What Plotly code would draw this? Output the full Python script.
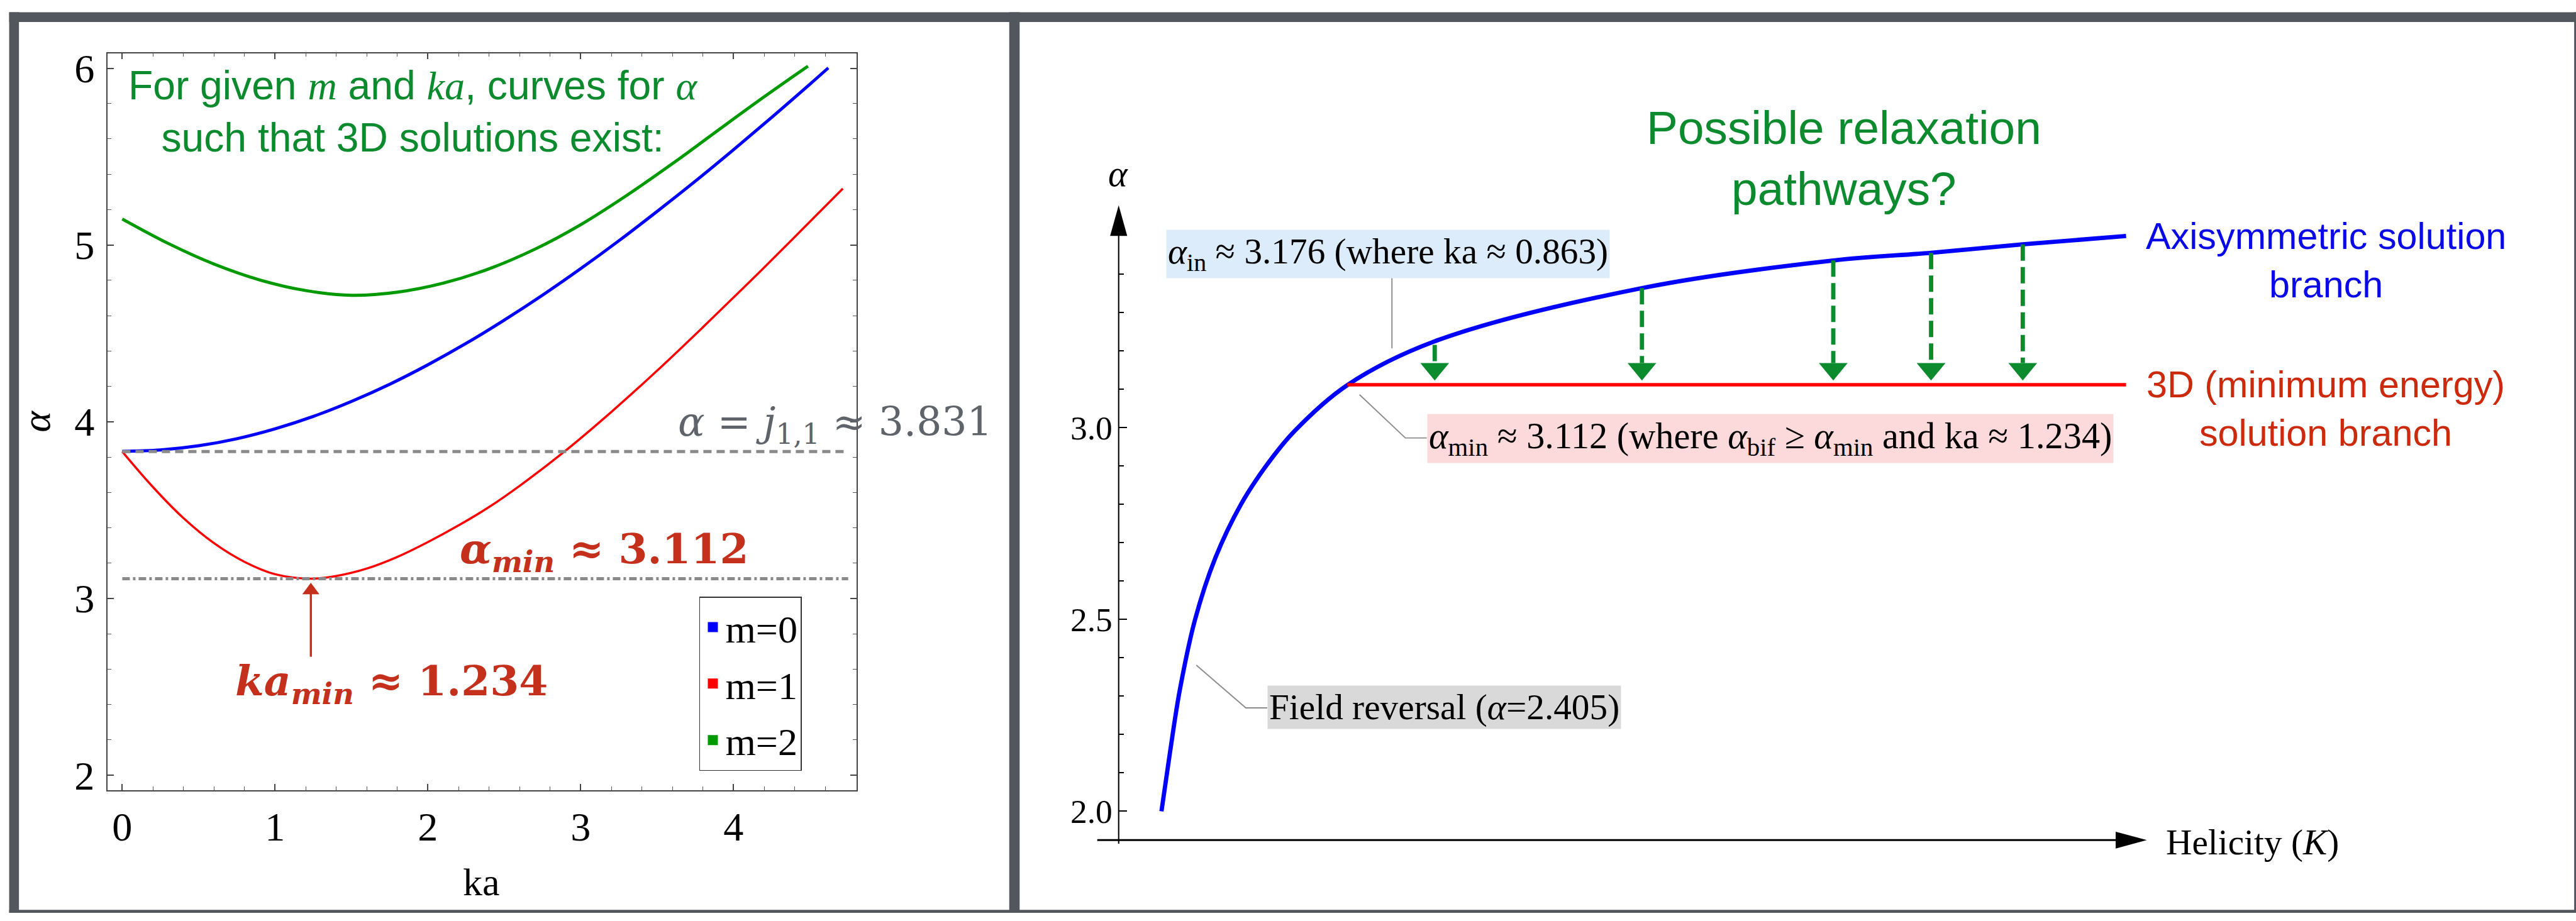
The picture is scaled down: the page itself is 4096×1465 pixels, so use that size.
import plotly.graph_objects as go

# ---------------------------------------------------------------
# Data
# ---------------------------------------------------------------
# Left panel: alpha on the bifurcation curves as a function of ka
ka_m0 = [0.0, 0.25, 0.5, 0.75, 1.0, 1.25, 1.5, 1.75, 2.0, 2.25, 2.5, 2.75,
         3.0, 3.25, 3.5, 3.75, 4.0, 4.25, 4.5, 4.62]
alpha_m0 = [3.832, 3.840, 3.864, 3.904, 3.960, 4.030, 4.115, 4.212, 4.322, 4.443,
            4.575, 4.716, 4.866, 5.024, 5.190, 5.361, 5.539, 5.722, 5.910, 6.002]

ka_m1 = [0.0, 0.2, 0.4, 0.6, 0.8, 1.0, 1.234, 1.4, 1.6, 1.8, 2.0, 2.2, 2.4, 2.6,
         2.889, 3.2, 3.5, 3.8, 4.1, 4.4, 4.715]
alpha_m1 = [3.831, 3.631, 3.455, 3.313, 3.207, 3.137, 3.112, 3.127, 3.169, 3.235,
            3.319, 3.413, 3.517, 3.637, 3.828, 4.055, 4.289, 4.535, 4.787, 5.045,
            5.319]

ka_m2 = [0.0, 0.3, 0.6, 0.9, 1.2, 1.5, 1.8, 2.1, 2.4, 2.7, 3.0, 3.3, 3.6, 3.9,
         4.2, 4.487]
alpha_m2 = [5.147, 5.009, 4.892, 4.802, 4.742, 4.715, 4.733, 4.784, 4.865, 4.976,
            5.115, 5.280, 5.460, 5.650, 5.838, 6.012]

m_labels = ["m=0", "m=1", "m=2"]
m_colors = ["#0000ff", "#ff0000", "#009a00"]

j11 = 3.831
alpha_min = 3.112
ka_min = 1.234
ka_ref_span = [0.0, 4.75]

left_xticks = [0, 1, 2, 3, 4]
left_yticks = [2, 3, 4, 5, 6]

# Right panel: alpha against helicity (arbitrary units)
K_axis = [0.070, 0.084, 0.100, 0.125, 0.158, 0.200, 0.241, 0.287, 0.374, 0.515,
          0.856, 1.169, 1.329, 1.479, 1.648]
alpha_axis = [2.000, 2.154, 2.316, 2.500, 2.660, 2.800, 2.900, 2.990, 3.111, 3.224,
              3.364, 3.436, 3.456, 3.478, 3.500]

K_3d = [0.374, 1.648]
alpha_3d = [alpha_min, alpha_min]

arrow_K = [0.517, 0.856, 1.169, 1.329, 1.479]
arrow_top = [3.216, 3.364, 3.436, 3.456, 3.478]

right_yticks = [2.0, 2.5, 3.0]
right_yticks_text = ["2.0", "2.5", "3.0"]
right_yminor = [2.1, 2.2, 2.3, 2.4, 2.6, 2.7, 2.8, 2.9, 3.1, 3.2, 3.3, 3.4]

# ---------------------------------------------------------------
# Page geometry: a 4214 x 1507 design grid scaled onto the page
# ---------------------------------------------------------------
W, H = 4096, 1465
GW, GH = 4214.0, 1507.0
S = W / GW


def X(p):
    return p / GW


def Y(p):
    return 1 - p / GH


def F(sz):
    return round(sz * S, 1)


SERIF = "Liberation Serif"
MATH = "DejaVu Serif"
SANS = "Liberation Sans"
FRAME = "#52575e"
GREEN = "#0b8a2e"
DARKRED = "#c4301c"

# plot areas on the design grid
L_X0, L_X1, L_Y0, L_Y1 = 176, 1401, 77, 1303
L_XR = [-0.096, 4.804]
L_YR = [1.915, 6.085]
R_X0, R_X1, R_Y0, R_Y1 = 1830, 3512, 330, 1386
R_XR = [0.0, 1.682]
R_YR = [1.9248, 3.5799]

fig = go.Figure()

# ---------------- left panel curves ----------------
for ka, al, col, w in [(ka_m2, alpha_m2, m_colors[2], 5),
                       (ka_m0, alpha_m0, m_colors[0], 5),
                       (ka_m1, alpha_m1, m_colors[1], 3.6)]:
    fig.add_trace(go.Scatter(x=ka, y=al, mode="lines", showlegend=False,
                             line=dict(color=col, width=F(w), shape="spline"),
                             xaxis="x", yaxis="y", hoverinfo="skip"))

# reference levels
fig.add_trace(go.Scatter(x=ka_ref_span, y=[j11, j11], mode="lines", showlegend=False,
                         line=dict(color="#8a8a8a", width=F(5), dash="13px,8px"),
                         xaxis="x", yaxis="y", hoverinfo="skip"))
fig.add_trace(go.Scatter(x=ka_ref_span, y=[alpha_min, alpha_min], mode="lines",
                         showlegend=False,
                         line=dict(color="#8a8a8a", width=F(5), dash="12px,5px,4px,5px"),
                         xaxis="x", yaxis="y", hoverinfo="skip"))

# legend swatches
for name, col in zip(m_labels, m_colors):
    fig.add_trace(go.Scatter(x=[None], y=[None], mode="markers", name=name,
                             legendgroup=name,
                             marker=dict(symbol="square", size=F(24), color=col),
                             xaxis="x", yaxis="y"))

# ---------------- right panel curves ----------------
fig.add_trace(go.Scatter(x=K_axis, y=alpha_axis, mode="lines", showlegend=False,
                         line=dict(color="#0000ff", width=F(7), shape="spline"),
                         xaxis="x2", yaxis="y2", hoverinfo="skip"))
fig.add_trace(go.Scatter(x=K_3d, y=alpha_3d, mode="lines", showlegend=False,
                         line=dict(color="#ff0000", width=F(5.5)),
                         xaxis="x2", yaxis="y2", hoverinfo="skip"))

# scale of the right axes in design-grid pixels
k_per_px = (R_XR[1] - R_XR[0]) / (R_X1 - R_X0)
a_per_px = (R_YR[1] - R_YR[0]) / (R_Y1 - R_Y0)
head_half = 23.5 * k_per_px
head_len = 29 * a_per_px
tip = alpha_min + 7 * a_per_px

shapes = []
for k, top in zip(arrow_K, arrow_top):
    fig.add_trace(go.Scatter(x=[k, k], y=[top, tip + head_len], mode="lines",
                             showlegend=False,
                             line=dict(color=GREEN, width=F(7), dash="26px,10px"),
                             xaxis="x2", yaxis="y2", hoverinfo="skip"))
    shapes.append(dict(type="path", xref="x2", yref="y2", layer="above",
                       path=f"M {k - head_half},{tip + head_len} L {k + head_half},{tip + head_len} L {k},{tip} Z",
                       fillcolor=GREEN, line=dict(width=0)))

# ---------------- ka_min arrow (left) ----------------
lk_per_px = (L_XR[1] - L_XR[0]) / (L_X1 - L_X0)
la_per_px = (L_YR[1] - L_YR[0]) / (L_Y1 - L_Y0)
ltip = alpha_min - 7 * la_per_px
lhead = 19 * la_per_px
lhalf = 14 * lk_per_px
shapes.append(dict(type="line", xref="x", yref="y", x0=ka_min, x1=ka_min,
                   y0=2.67, y1=ltip - lhead + 0.01,
                   line=dict(color=DARKRED, width=F(3.5))))
shapes.append(dict(type="path", xref="x", yref="y",
                   path=f"M {ka_min - lhalf},{ltip - lhead} L {ka_min + lhalf},{ltip - lhead} L {ka_min},{ltip} Z",
                   fillcolor=DARKRED, line=dict(width=0)))

# ---------------- page frame ----------------
for x0, x1, y0, y1 in [(15, 4214, 9, 25), (15, 31, 9, 1507), (1651, 1668, 9, 1507),
                       (15, 4214, 1502, 1507), (4211, 4214, 9, 1507)]:
    shapes.append(dict(type="rect", xref="paper", yref="paper", layer="above",
                       x0=X(x0), x1=X(x1), y0=Y(y1), y1=Y(y0),
                       fillcolor=FRAME, line=dict(width=0)))

# ---------------- right panel axis arrows ----------------
shapes.append(dict(type="line", xref="paper", yref="paper",
                   x0=X(1830), x1=X(1830), y0=Y(1392), y1=Y(372),
                   line=dict(color="black", width=F(2.2))))
shapes.append(dict(type="path", xref="paper", yref="paper",
                   path=f"M {X(1816)},{Y(381)} L {X(1844)},{Y(381)} L {X(1830)},{Y(330)} Z",
                   fillcolor="black", line=dict(width=0)))
shapes.append(dict(type="line", xref="paper", yref="paper",
                   x0=X(1795), x1=X(3468), y0=Y(1386), y1=Y(1386),
                   line=dict(color="black", width=F(3.2))))
shapes.append(dict(type="path", xref="paper", yref="paper",
                   path=f"M {X(3461)},{Y(1372)} L {X(3461)},{Y(1400)} L {X(3512)},{Y(1386)} Z",
                   fillcolor="black", line=dict(width=0)))

# ---------------- callout leader lines ----------------
LEAD = "#8c8c8c"
for pts in [[(2277, 447), (2277, 568)],
            [(2224, 645), (2299, 717), (2334, 717)],
            [(1957, 1095), (2038, 1166), (2073, 1166)]]:
    path = "M " + " L ".join(f"{X(a)},{Y(b)}" for a, b in pts)
    shapes.append(dict(type="path", xref="paper", yref="paper", path=path,
                       line=dict(color=LEAD, width=F(2))))

# ---------------- text ----------------
def serif_i(t):
    return f"<span style='font-family:{SERIF}'><i>{t}</i></span>"


ann = []


def text(x, y, t, size, color="black", family=SERIF, xanchor="center",
         yanchor="middle", **kw):
    ann.append(dict(x=X(x), y=Y(y), xref="paper", yref="paper", text=t,
                    showarrow=False, xanchor=xanchor, yanchor=yanchor,
                    font=dict(family=family, size=F(size), color=color), **kw))


text(675, 174, f"For given {serif_i('m')} and {serif_i('ka')}, curves for {serif_i('α')}"
     "<br>such that 3D solutions exist:", 66, GREEN, SANS, align="center")
text(1366, 694, "<i>α</i> = <i>j</i><sub>1,1</sub> ≈ 3.831", 65, "#5f646b", MATH)
text(988, 906, "<b><i>α<sub>min</sub></i> ≈ 3.112</b>", 68, DARKRED, MATH)
text(640, 1126, "<b><i>ka<sub>min</sub></i> ≈ 1.234</b>", 68, DARKRED, MATH)
text(788, 1456, "ka", 64)

text(1829, 278, "<i>α</i>", 60)
text(3016, 252, "Possible relaxation<br>pathways?", 77, GREEN, SANS, align="center")
text(3805, 421, "Axisymmetric solution<br>branch", 61, "#0a0ae6", SANS, align="center")
text(3805, 668, "3D (minimum energy)<br>solution branch", 61, "#cc2a0c", SANS, align="center")
text(1907, 411, "<i>α</i><sub>in</sub> ≈ 3.176 (where ka ≈ 0.863)", 59,
     xanchor="left", bgcolor="#dcecfb", borderpad=2)
text(2334, 718, "<i>α</i><sub>min</sub> ≈ 3.112 (where <i>α</i><sub>bif</sub> ≥ "
     "<i>α</i><sub>min</sub> and ka ≈ 1.234)", 60,
     xanchor="left", bgcolor="#fcd9da", borderpad=2)
text(2073, 1165, "Field reversal (<i>α</i>=2.405)", 59,
     xanchor="left", bgcolor="#d9d9d9", borderpad=2)
text(3541, 1390, "Helicity (<i>K</i>)", 59, xanchor="left")

# ---------------- axes ----------------
axis_common = dict(showgrid=False, zeroline=False, ticks="inside",
                   tickfont=dict(family=SERIF, size=F(66), color="black"))

fig.update_layout(
    width=W, height=H,
    margin=dict(l=0, r=0, t=0, b=0),
    paper_bgcolor="white", plot_bgcolor="rgba(0,0,0,0)",
    xaxis=dict(domain=[X(L_X0), X(L_X1)], range=L_XR, anchor="y",
               showline=True, linecolor="#444", linewidth=F(1.6), mirror="ticks",
               tickvals=left_xticks, ticklen=F(10), tickwidth=F(1.5), tickcolor="#444",
               ticklabelstandoff=1,
               minor=dict(ticks="inside", dtick=0.2, tick0=0, ticklen=F(6),
                          tickwidth=F(1.3), tickcolor="#555"),
               **axis_common),
    yaxis=dict(domain=[Y(L_Y1), Y(L_Y0)], range=L_YR, anchor="x",
               showline=True, linecolor="#444", linewidth=F(1.6), mirror="ticks",
               tickvals=left_yticks, ticklen=F(10), tickwidth=F(1.5), tickcolor="#444",
               ticklabelstandoff=6, automargin=True,
               title=dict(text="<i>α</i>", standoff=18,
                          font=dict(family=SERIF, size=F(66), color="black")),
               minor=dict(ticks="inside", dtick=0.2, tick0=0, ticklen=F(6),
                          tickwidth=F(1.3), tickcolor="#555"),
               **axis_common),
    xaxis2=dict(domain=[X(R_X0), X(R_X1)], range=R_XR, anchor="y2", visible=False),
    yaxis2=dict(domain=[Y(R_Y1), Y(R_Y0)], range=R_YR, anchor="x2",
                showline=False, showgrid=False, zeroline=False, ticks="inside",
                tickvals=right_yticks, ticktext=right_yticks_text,
                ticklen=F(14), tickwidth=F(2), tickcolor="black",
                ticklabelstandoff=9,
                tickfont=dict(family=SERIF, size=F(55), color="black"),
                minor=dict(ticks="inside", tickvals=right_yminor, ticklen=F(9),
                           tickwidth=F(1.8), tickcolor="black")),
    legend=dict(x=X(1144), y=Y(981), xanchor="left", yanchor="top",
                bgcolor="white", bordercolor="#333", borderwidth=F(1.5),
                font=dict(family=SERIF, size=F(64), color="black"),
                tracegroupgap=6, itemsizing="trace"),
    shapes=shapes,
    annotations=ann,
)

fig.write_html("out.html")
